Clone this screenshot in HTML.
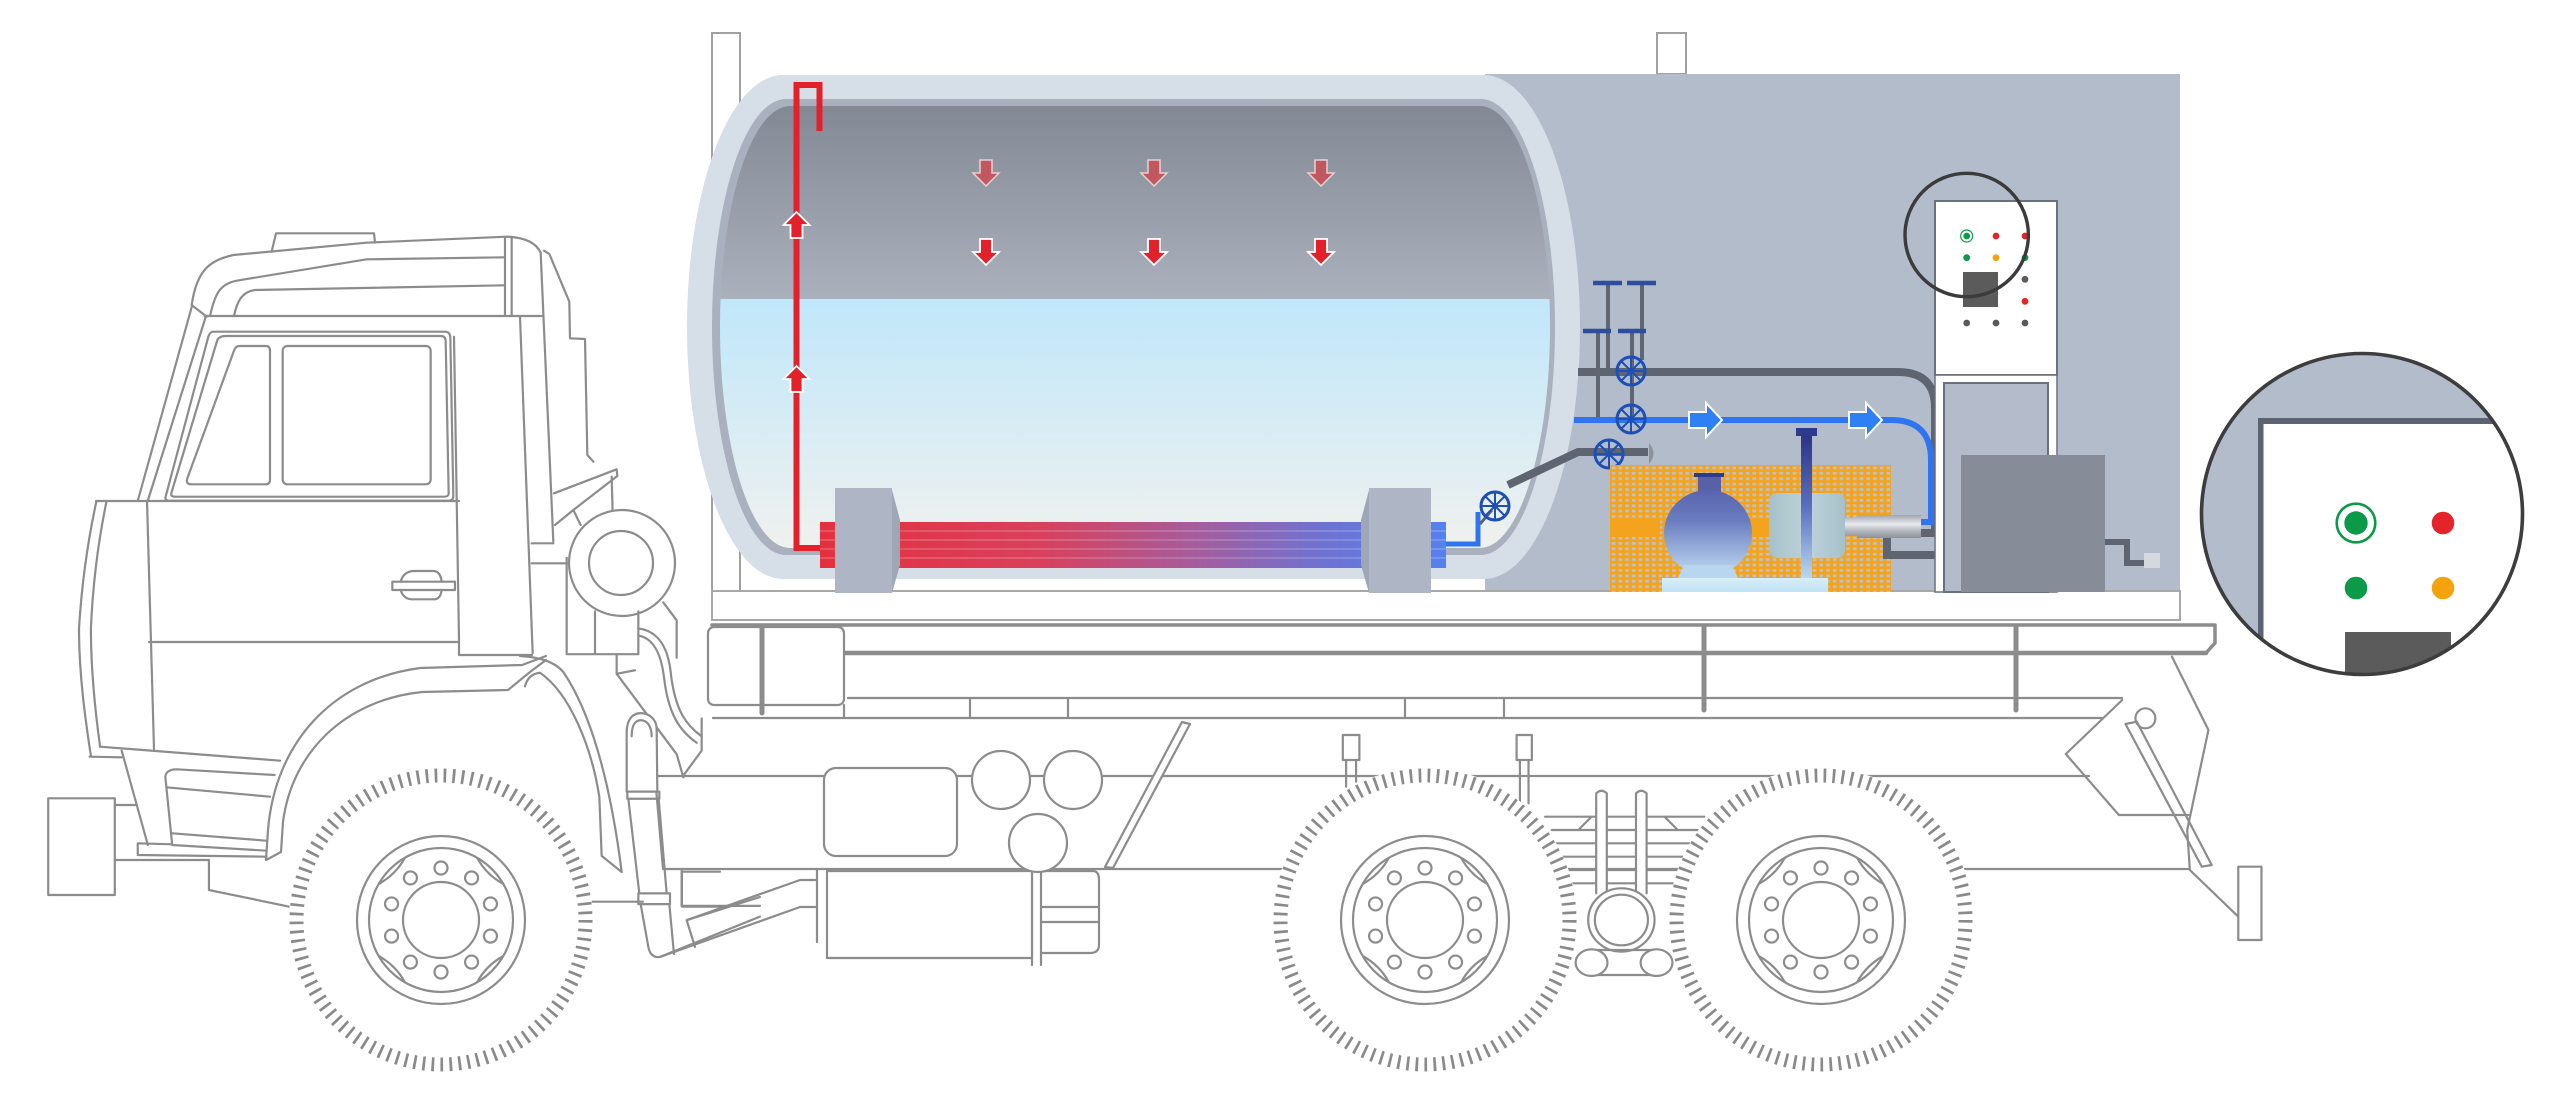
<!DOCTYPE html>
<html><head><meta charset="utf-8"><style>
html,body{margin:0;padding:0;background:#fff;}
svg{display:block}
.t{fill:none;stroke:#8c8c8c;stroke-width:2.2;stroke-linejoin:round;stroke-linecap:round}
.t *{vector-effect:non-scaling-stroke}
</style></head><body>
<svg xmlns="http://www.w3.org/2000/svg" width="2560" height="1096" viewBox="0 0 2560 1096">
<defs>
 <linearGradient id="gas" gradientUnits="userSpaceOnUse" x1="0" y1="106" x2="0" y2="299">
  <stop offset="0" stop-color="#838994"/><stop offset="1" stop-color="#aab1bc"/></linearGradient>
 <linearGradient id="liq" gradientUnits="userSpaceOnUse" x1="0" y1="299" x2="0" y2="548">
  <stop offset="0" stop-color="#c0e7fa"/><stop offset="0.6" stop-color="#dcedf3"/><stop offset="1" stop-color="#f0f1ee"/></linearGradient>
 <linearGradient id="heat" gradientUnits="userSpaceOnUse" x1="820" y1="0" x2="1446" y2="0">
  <stop offset="0" stop-color="#e3303f"/><stop offset="0.35" stop-color="#d9405c"/><stop offset="0.6" stop-color="#a65c9c"/><stop offset="0.8" stop-color="#6f72d2"/><stop offset="1" stop-color="#5482ee"/></linearGradient>
 <linearGradient id="pump" gradientUnits="userSpaceOnUse" x1="0" y1="473" x2="0" y2="578">
  <stop offset="0" stop-color="#4e57a3"/><stop offset="0.45" stop-color="#6a7cc0"/><stop offset="1" stop-color="#c4e0f4"/></linearGradient>
 <linearGradient id="rod" gradientUnits="userSpaceOnUse" x1="0" y1="436" x2="0" y2="578">
  <stop offset="0" stop-color="#2b3587"/><stop offset="0.5" stop-color="#5a6fc0"/><stop offset="1" stop-color="#b8d8f2"/></linearGradient>
 <linearGradient id="coup" gradientUnits="userSpaceOnUse" x1="0" y1="515" x2="0" y2="538">
  <stop offset="0" stop-color="#a0a5ad"/><stop offset="0.4" stop-color="#e8eaee"/><stop offset="0.7" stop-color="#b0b4bb"/><stop offset="1" stop-color="#8d929a"/></linearGradient>
 <linearGradient id="motor" gradientUnits="userSpaceOnUse" x1="1769" y1="0" x2="1845" y2="0">
  <stop offset="0" stop-color="#a6c0ca"/><stop offset="0.5" stop-color="#bdd3da"/><stop offset="1" stop-color="#a6c0ca"/></linearGradient>
 <linearGradient id="base" gradientUnits="userSpaceOnUse" x1="0" y1="578" x2="0" y2="592">
  <stop offset="0" stop-color="#d9eef9"/><stop offset="1" stop-color="#bfe2f5"/></linearGradient>
 <clipPath id="inner"><path d="M790,106 L1480,106 A70,221 0 0 1 1480,548 L790,548 A70,221 0 0 1 790,106 Z"/></clipPath>
 <clipPath id="mag"><circle cx="2362" cy="514" r="159"/></clipPath>
 <pattern id="mesh" patternUnits="userSpaceOnUse" x="1610" y="465" width="6.7" height="5.4">
  <rect width="6.7" height="5.4" fill="#f4a41c"/><rect x="1.8" y="1.5" width="3.6" height="2.7" fill="#bcc2cc"/></pattern>
 <g id="v"><circle r="14" fill="none" stroke="#1d4fb5" stroke-width="3"/><path d="M-14,0H14M0,-14V14M-10,-10L10,10M-10,10L10,-10" stroke="#1d4fb5" stroke-width="2"/><circle r="3" fill="#1d4fb5"/></g>
 <polygon id="ba" points="-16,-8 1,-8 1,-17 17,0 1,17 1,8 -16,8" fill="#2f80f2" stroke="#fff" stroke-width="2"/>
 <polygon id="ru" points="0,-13 13,0 6,0 6,13 -6,13 -6,0 -13,0" fill="#e3212a" stroke="#fff" stroke-width="1.8"/>
 <polygon id="rd" points="0,13 13,0 6,0 6,-13 -6,-13 -6,0 -13,0" fill="#e3212a" stroke="#fff" stroke-width="1.8"/>
 <polygon id="rdl" points="0,13 13,0 6,0 6,-13 -6,-13 -6,0 -13,0" fill="#c2585f" stroke="#e8d0d2" stroke-width="1.5"/>
 <g id="wheel">
  <circle r="152" fill="#fff"/>
  <circle r="144.5" fill="none" stroke="#8a8a8a" stroke-width="14" stroke-dasharray="2.7 6.29"/>
  <g fill="none" stroke="#8c8c8c" stroke-width="2.2">
   <circle r="84"/><circle r="72"/><circle r="38"/>
   <circle cx="49.45" cy="16.07" r="6.5"/><circle cx="30.56" cy="42.07" r="6.5"/><circle cx="0" cy="52" r="6.5"/>
   <circle cx="-30.56" cy="42.07" r="6.5"/><circle cx="-49.45" cy="16.07" r="6.5"/><circle cx="-49.45" cy="-16.07" r="6.5"/>
   <circle cx="-30.56" cy="-42.07" r="6.5"/><circle cx="0" cy="-52" r="6.5"/><circle cx="30.56" cy="-42.07" r="6.5"/>
   <circle cx="49.45" cy="-16.07" r="6.5"/>
   <path d="M62.35,36 Q45.3,45.3 36,62.35 M-62.35,36 Q-45.3,45.3 -36,62.35 M62.35,-36 Q45.3,-45.3 36,-62.35 M-62.35,-36 Q-45.3,-45.3 -36,-62.35"/>
  </g>
 </g>
</defs>

<rect width="2560" height="1096" fill="#fff"/>

<!-- posts, panel, platform -->
<rect x="712" y="33" width="28" height="558" fill="#fff" stroke="#a0a0a0" stroke-width="2"/>
<rect x="1657" y="33" width="29" height="41" fill="#fff" stroke="#a0a0a0" stroke-width="2"/>
<rect x="1485" y="74" width="695" height="517" fill="#b3bccb"/>
<rect x="712" y="591" width="1468" height="29" fill="#fff" stroke="#a8a8a8" stroke-width="2"/>

<!-- tank -->
<path d="M783,75 L1484,75 A96,252 0 0 1 1484,579 L783,579 A96,252 0 0 1 783,75 Z" fill="#d6dee7"/>
<path d="M786,99 L1481,99 A74,228 0 0 1 1481,555 L786,555 A74,228 0 0 1 786,99 Z" fill="#a9b1be"/>
<g clip-path="url(#inner)">
 <rect x="700" y="100" width="870" height="200" fill="url(#gas)"/>
 <rect x="700" y="299" width="870" height="260" fill="url(#liq)"/>
</g>

<!-- red riser pipe & arrows -->
<path d="M821,548 L796.5,548 L796.5,85 L819.5,85 L819.5,131" fill="none" stroke="#e3212a" stroke-width="6"/>
<use href="#ru" x="796.5" y="225"/>
<use href="#ru" x="796.5" y="379"/>
<use href="#rdl" x="986" y="173"/><use href="#rdl" x="1154" y="173"/><use href="#rdl" x="1321" y="173"/>
<use href="#rd" x="986" y="252"/><use href="#rd" x="1154" y="252"/><use href="#rd" x="1321" y="252"/>

<!-- heater -->
<rect x="820" y="522" width="626" height="46" fill="url(#heat)"/>
<path d="M820,531H1446M820,540H1446M820,549H1446M820,558H1446" stroke="#ffffff" stroke-opacity="0.22" stroke-width="1.5"/>
<rect x="835" y="488" width="57" height="105" fill="#aeb6c5"/>
<polygon points="892,490 900,520 900,565 892,593" fill="#9ea7b6"/>
<rect x="1369" y="488" width="62" height="105" fill="#aeb6c5"/>
<polygon points="1369,490 1361,520 1361,565 1369,593" fill="#9ea7b6"/>
<path d="M1446,544 L1478,544 L1478,512" fill="none" stroke="#2f74f0" stroke-width="5"/>
<path d="M1480,524 L1492,510" stroke="#5e6570" stroke-width="3"/>
<use href="#v" x="1495" y="506"/>

<!-- gray pipes -->
<path d="M1508,485 L1578,452 L1648,452" fill="none" stroke="#5e6570" stroke-width="8"/>
<path d="M1649,443 Q1658,453 1649,464 Z" fill="#8d939c"/>
<path d="M1578,372 L1898,372 Q1935,372 1935,408 L1935,533 L1921,533" fill="none" stroke="#5e6570" stroke-width="8"/>
<!-- T handles -->
<path d="M1608,283 L1608,372 M1642,283 L1642,360 M1598,331 L1598,420 M1632,331 L1632,420" stroke="#5f6672" stroke-width="4"/>
<path d="M1593,283 H1622 M1627,283 H1656 M1583,331 H1611 M1618,331 H1646" stroke="#2e4d9c" stroke-width="4.5"/>
<!-- blue pipe -->
<path d="M1574,420 L1891,420 Q1931,420 1931,460 L1931,522 L1921,522" fill="none" stroke="#2f74f0" stroke-width="6"/>
<use href="#v" x="1631" y="371"/>
<use href="#v" x="1631" y="419"/>
<use href="#v" x="1609" y="454"/>
<use href="#ba" x="1705" y="420"/>
<use href="#ba" x="1865" y="420"/>

<!-- mesh & pump -->
<rect x="1610" y="465" width="281" height="127" fill="url(#mesh)"/>
<rect x="1610" y="520" width="50" height="17" fill="#f4a41c"/>
<rect x="1736" y="520" width="34" height="17" fill="#f4a41c"/>
<rect x="1662" y="578" width="166" height="14" fill="url(#base)"/>
<rect x="1698" y="476" width="23" height="22" fill="#5860a8"/>
<rect x="1694" y="473" width="30" height="4" fill="#2e3a8a"/>
<ellipse cx="1708" cy="533" rx="44" ry="43" fill="url(#pump)"/>
<polygon points="1684,565 1732,565 1738,578 1678,578" fill="#b8d6f0"/>
<rect x="1769" y="493" width="76" height="65" rx="8" fill="url(#motor)"/>
<rect x="1796" y="428" width="21" height="8" fill="#2d3a8c"/>
<rect x="1801" y="436" width="11" height="142" fill="url(#rod)"/>
<rect x="1845" y="518" width="14" height="18" fill="url(#coup)"/>
<rect x="1857" y="515" width="64" height="23" fill="url(#coup)"/>
<path d="M1887,538 L1887,555 L1952,555 L1952,452 Q1952,440 1964,440 L2024,440 Q2036,440 2036,452 L2036,456" fill="none" stroke="#5e6570" stroke-width="8"/>

<!-- cabinet & box -->
<rect x="1935" y="201" width="122" height="174" fill="#fff" stroke="#6a707c" stroke-width="2"/>
<rect x="1935" y="375" width="122" height="217" fill="#fff" stroke="#6a707c" stroke-width="1.5"/>
<rect x="1944" y="383" width="104" height="209" fill="#b4bccb" stroke="#6a707c" stroke-width="2"/>
<rect x="1961" y="455" width="144" height="137" fill="#878d98"/>
<path d="M2105,542 L2127,542 L2127,563 L2145,563" fill="none" stroke="#5e6570" stroke-width="6"/>
<rect x="2144" y="553" width="16" height="15" fill="#d5d8dc"/>
<circle cx="1966.7" cy="236" r="6" fill="none" stroke="#0b9a47" stroke-width="1.2"/>
<circle cx="1966.7" cy="236" r="3.4" fill="#0b9a47"/>
<circle cx="1996" cy="236" r="3.4" fill="#e3242b"/><circle cx="2025" cy="236" r="3.4" fill="#e3242b"/>
<circle cx="1966.7" cy="257.7" r="3.4" fill="#0b9a47"/><circle cx="1996" cy="257.7" r="3.4" fill="#f4a30f"/><circle cx="2025" cy="257.7" r="3.4" fill="#0b9a47"/>
<circle cx="2025" cy="279.3" r="3.4" fill="#5a5a5a"/><circle cx="2025" cy="301.3" r="3.4" fill="#e3242b"/>
<circle cx="1966.7" cy="323" r="3.4" fill="#5a5a5a"/><circle cx="1996" cy="323" r="3.4" fill="#5a5a5a"/><circle cx="2025" cy="323" r="3.4" fill="#5a5a5a"/>
<rect x="1963" y="272" width="35" height="35" fill="#5b5b5b"/>
<circle cx="1966.7" cy="235" r="61.7" fill="none" stroke="#3b3b3b" stroke-width="3.4"/>

<!-- magnifier -->
<g clip-path="url(#mag)">
 <rect x="2190" y="340" width="350" height="350" fill="#b3bccb"/>
 <rect x="2263" y="424" width="280" height="270" fill="#fff"/>
 <rect x="2258" y="418" width="285" height="6" fill="#5c6370"/>
 <rect x="2258" y="418" width="5.5" height="280" fill="#5c6370"/>
 <circle cx="2356" cy="523" r="19.3" fill="none" stroke="#0b9a47" stroke-width="2.6"/>
 <circle cx="2356" cy="523" r="11.7" fill="#0b9a47"/>
 <circle cx="2443" cy="523" r="11.3" fill="#e3242b"/>
 <circle cx="2356" cy="588" r="11.3" fill="#0b9a47"/>
 <circle cx="2443" cy="588" r="11.3" fill="#f4a30f"/>
 <rect x="2345" y="632" width="106" height="50" fill="#5b5b5b"/>
</g>
<circle cx="2362" cy="514" r="160.5" fill="none" stroke="#3d3d3d" stroke-width="3.6"/>

<!-- ================= TRUCK LINE DRAWING ================= -->
<!-- rails -->
<g class="t" stroke="#888">
 <path d="M712,625 L2215,625 L2215,643 L2206,653" stroke-width="3.5"/>
 <path d="M712,636 L726,653 L2206,653" stroke-width="4.5"/>
 <rect x="708" y="627" width="136" height="78" rx="6" fill="#fff"/>
 <path d="M762,627 L762,713 M1704,627 L1704,710 M2016,627 L2016,710" stroke-width="5"/>
 <path d="M848,698 L2122,698 M713,718 L2102,718 M970,698 L970,718 M1068,698 L1068,718 M1405,698 L1405,718 M1504,698 L1504,718 M844,705 L844,718"/>
 <path d="M655,776 L2089,776 M663,869 L2188,869 M655,776 L663,869"/>
</g>

<!-- chassis details -->
<g class="t">
 <path d="M660,957 L800,907 L817,907 M687,920 L800,880 L817,880"/>
 <path d="M817,870 L817,942 M1041,871 L1093,871 Q1099,871 1099,880 L1099,945 Q1099,953 1090,953 L1041,953 M1041,907 L1099,907 M1041,922 L1099,922 M1032,870 L1032,965 M1041,870 L1041,965"/>
 <rect x="827" y="871" width="205" height="87" fill="#fff"/>
 <rect x="824" y="768" width="133" height="88" rx="12" fill="#fff"/>
 <circle cx="1001" cy="780" r="29" fill="#fff"/>
 <circle cx="1073" cy="780" r="29" fill="#fff"/>
 <circle cx="1038" cy="843" r="29" fill="#fff"/>
 <polygon points="1182,722 1190,724 1113,868 1105,867" fill="#fff"/>
</g>

<!-- rear spring/leaf & bracket (zoom5 coords) -->
<g class="t" transform="translate(1240,600) scale(0.6633,0.33333)">
 <path d="M460,650 L700,650 M470,690 L690,690 M470,730 L690,730 M470,770 L690,770 M470,810 L690,810 M470,850 L690,850 M510,690 L530,650 M660,690 L640,650"/>
 <rect x="155" y="405" width="25" height="75"/><rect x="417" y="405" width="23" height="75"/>
 <path d="M160,480 L160,560 M175,480 L175,545 M422,480 L422,610 M435,480 L435,610"/>
 <path d="M1405,170 L1460,390 L1428,690 L1432,810 L1505,950"/>
 <path d="M1330,300 L1245,462 L1325,645 L1430,645"/>
 <path d="M1335,372 L1450,800 L1465,795 L1352,365 Z"/>
 <ellipse cx="1365" cy="355" rx="15" ry="30"/>
 <rect x="1505" y="800" width="35" height="220"/>
</g>

<!-- cab upper (zoom11 coords) -->
<g class="t" transform="translate(160,220) scale(0.33333)">
 <path d="M335,95 L348,40 L642,40 L645,68"/>
 <path d="M95,255 C110,150 150,120 220,105 L620,68 L1040,50 C1100,52 1130,72 1142,98"/>
 <path d="M95,255 L140,290"/>
 <path d="M150,288 C165,220 180,192 230,182 L620,118 L1035,112"/>
 <path d="M222,288 C232,240 248,215 285,210 L1035,196"/>
 <path d="M135,288 L1145,288"/>
 <path d="M1035,52 L1035,288 M1055,50 L1055,288"/>
 <path d="M1142,98 L1180,965"/>
 <path d="M1152,92 L1168,102 L1228,245 L1230,355 L1275,357 L1282,705 L1300,725"/>
 <path d="M1182,820 L1370,748 L1372,768 L1240,870 L1185,915"/>
 <path d="M1240,870 L1262,915 M1355,770 L1358,880"/>
 <path d="M1115,970 L1180,970 M1115,1030 L1228,1030"/>
 <path d="M1080,290 L1118,1300"/>
 <path d="M160,335 L855,335 Q870,335 871,352 L880,828 Q880,842 866,842 L28,842 Q12,842 18,826 L145,350 Q150,335 160,335 Z"/>
 <path d="M198,348 L842,348 Q856,348 857,362 L866,820 Q866,830 854,830 L44,830 Q30,830 35,816 L172,360 Q178,348 198,348 Z"/>
 <path d="M238,378 L318,378 Q330,378 330,392 L330,780 Q330,793 316,793 L95,793 Q76,793 82,775 L222,392 Q227,378 238,378 Z"/>
 <rect x="368" y="378" width="444" height="415" rx="14"/>
 <path d="M882,350 L897,1260"/>
 <rect x="697" y="1085" width="188" height="25"/>
 <path d="M722,1085 Q730,1055 760,1053 L822,1053 Q842,1056 845,1085 M722,1110 Q730,1137 755,1138 L825,1138 Q842,1135 845,1110"/>
</g>

<!-- cab front / door (orig coords) -->
<g class="t">
 <path d="M192,306 L138,500 M206,316 L148,500"/>
 <path d="M96,501 L459,501"/>
 <path d="M96.4,501.3 C88.2,539.3 81.7,583.9 79,628.5 C79,673.2 85,717.8 90.9,755.8"/>
 <path d="M106.5,501.3 C98.7,539.3 92.8,583.9 90.9,628.5 C90.9,673.2 95.5,713.4 100.1,746.8"/>
 <path d="M147,501 L154,749 M149,642 L459,642 M459,640 L459,655 L532,655"/>
 <path d="M266,860 L268,830 C275,745 330,680 420,668 L522,665 L546,656"/>
 <path d="M281,852 L283,822 C292,752 345,700 422,692 L508,690 L530,672 L546,660 M266,860 L281,852"/>
 <circle cx="622" cy="563" r="53" fill="#fff"/>
 <circle cx="621" cy="563" r="32"/>
</g>

<!-- cab lower (zoom6 coords) -->
<g class="t" transform="translate(0,680) scale(0.4592,0.33333)">
 <path d="M195,230 L265,232 M218,200 L610,242"/>
 <path d="M265,212 L322,495"/>
 <path d="M360,290 Q362,268 385,268 L598,285 M360,290 L375,495 M362,322 L588,350 M375,460 L580,482 M375,495 L580,512"/>
 <path d="M300,490 L300,525 L580,530 M300,490 L375,493"/>
 <rect x="105" y="355" width="145" height="290"/>
 <path d="M250,375 L295,375 M250,540 L455,540 L455,630 L630,680"/>
 <path d="M1290,665 L1400,665"/>
 <path d="M1485,575 L1568,575 M1485,575 L1485,680 L1568,680"/>
</g>

<!-- exhaust / fender back (zoom8 coords) -->
<g class="t" transform="translate(520,440) scale(0.33333,0.357)">
 <path d="M0,605 Q95,610 130,650 C210,760 270,950 305,1210"/>
 <path d="M15,690 Q25,655 60,652 C150,710 215,860 238,1000 L245,1165 L305,1210"/>
 <path d="M140,330 L140,600 L225,600 M225,480 L225,600 L355,600 L355,480"/>
 <path d="M290,600 L290,655 L345,645"/>
 <path d="M355,528 C420,535 445,590 452,650 C465,760 500,800 545,830"/>
 <path d="M355,548 C405,555 425,610 432,665 C445,770 480,815 530,848"/>
 <path d="M290,655 L470,880 L490,945"/>
 <path d="M430,455 L470,505 L470,610"/>
 <path d="M545,780 L545,870 L490,940"/>
 <path d="M320,985 L320,820 C320,780 340,765 362,765 C390,765 410,785 410,810 L412,985" fill="#fff"/>
 <path d="M335,830 C335,800 345,785 362,785 C380,785 395,800 395,830"/>
 <rect x="322" y="985" width="96" height="20"/>
 <path d="M325,1005 L358,1270 M416,1005 L440,1270"/>
 <rect x="355" y="1270" width="95" height="30"/>
 <path d="M362,1300 L385,1420 Q392,1452 420,1448 L720,1335 M448,1300 L462,1440 M500,1345 L720,1280 M500,1345 L525,1420"/>
 <path d="M485,1205 L485,1305 L720,1305"/>
</g>

<!-- wheels -->
<use href="#wheel" x="441" y="920"/>
<use href="#wheel" x="1425" y="920"/>
<use href="#wheel" x="1821" y="920"/>

<!-- between rear wheels: rods & hub (zoom5 coords) -->
<g class="t" transform="translate(1240,600) scale(0.6633,0.33333)">
 <path d="M537,880 L537,580 Q545,565 553,580 L553,880 M597,880 L597,580 Q605,565 613,580 L613,880" fill="#fff"/>
 <ellipse cx="575" cy="960" rx="50" ry="95" fill="#fff"/>
 <ellipse cx="575" cy="960" rx="40" ry="76"/>
 <path d="M530,1050 L628,1050 M530,1125 L628,1125"/>
 <ellipse cx="530" cy="1088" rx="24" ry="40" fill="#fff"/>
 <ellipse cx="628" cy="1088" rx="24" ry="40" fill="#fff"/>
</g>
</svg>
</body></html>
